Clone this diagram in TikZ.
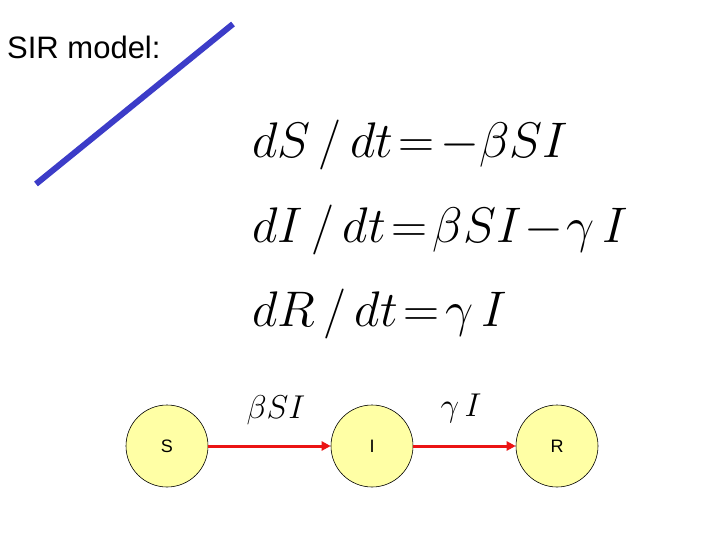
\RequirePackage{fix-cm}
\documentclass[tikz,border=0pt]{standalone}
\usepackage{fontspec}
\usepackage{amsmath}
\setsansfont{Liberation Sans}
\usetikzlibrary{arrows.meta}
\definecolor{nodefill}{RGB}{255,255,165}
\definecolor{slashblue}{RGB}{60,60,200}
\definecolor{arrred}{RGB}{235,20,20}
\tikzset{
  state/.style={circle,draw=black,line width=0.6pt,fill=nodefill,minimum size=82pt,inner sep=0pt,font=\sffamily\fontsize{18}{21}\selectfont},
  flow/.style={draw=arrred,line width=3pt,-{Triangle[length=9pt,width=9pt]}},
  eq/.style={anchor=west,inner sep=0pt,font=\fontsize{50}{60}\selectfont},
  flowlab/.style={inner sep=0pt,font=\fontsize{33}{40}\selectfont}
}
\begin{document}
\begin{tikzpicture}[x=1pt,y=-1pt]
\useasboundingbox (0,0) rectangle (720,540);
\node[anchor=west,inner sep=0pt,font=\sffamily\fontsize{31}{36}\selectfont] (title) at (7,47) {SIR model:};
\coordinate (la) at (36,184);
\coordinate (lb) at (233,24);
\draw[slashblue,line width=6pt] (la) -- (lb);
\node[eq] (e1) at (252,145) {$dS\,/\,dt\!=\!-\beta SI$};
\node[eq] (e2) at (252,230) {$dI\,/\,dt\!=\!\beta SI\!-\!\gamma\, I$};
\node[eq] (e3) at (252,314) {$dR\,/\,dt\!=\!\gamma\, I$};
\node[state] (S) at (167,446) {S};
\node[state] (I) at (372,446) {I};
\node[state] (R) at (557,446) {R};
\draw[flow] (S) -- (I);
\draw[flow] (I) -- (R);
\node[flowlab] (l1) at (276,410) {$\beta SI$};
\node[flowlab] (l2) at (461,408) {$\gamma\, I$};
\end{tikzpicture}
\end{document}
